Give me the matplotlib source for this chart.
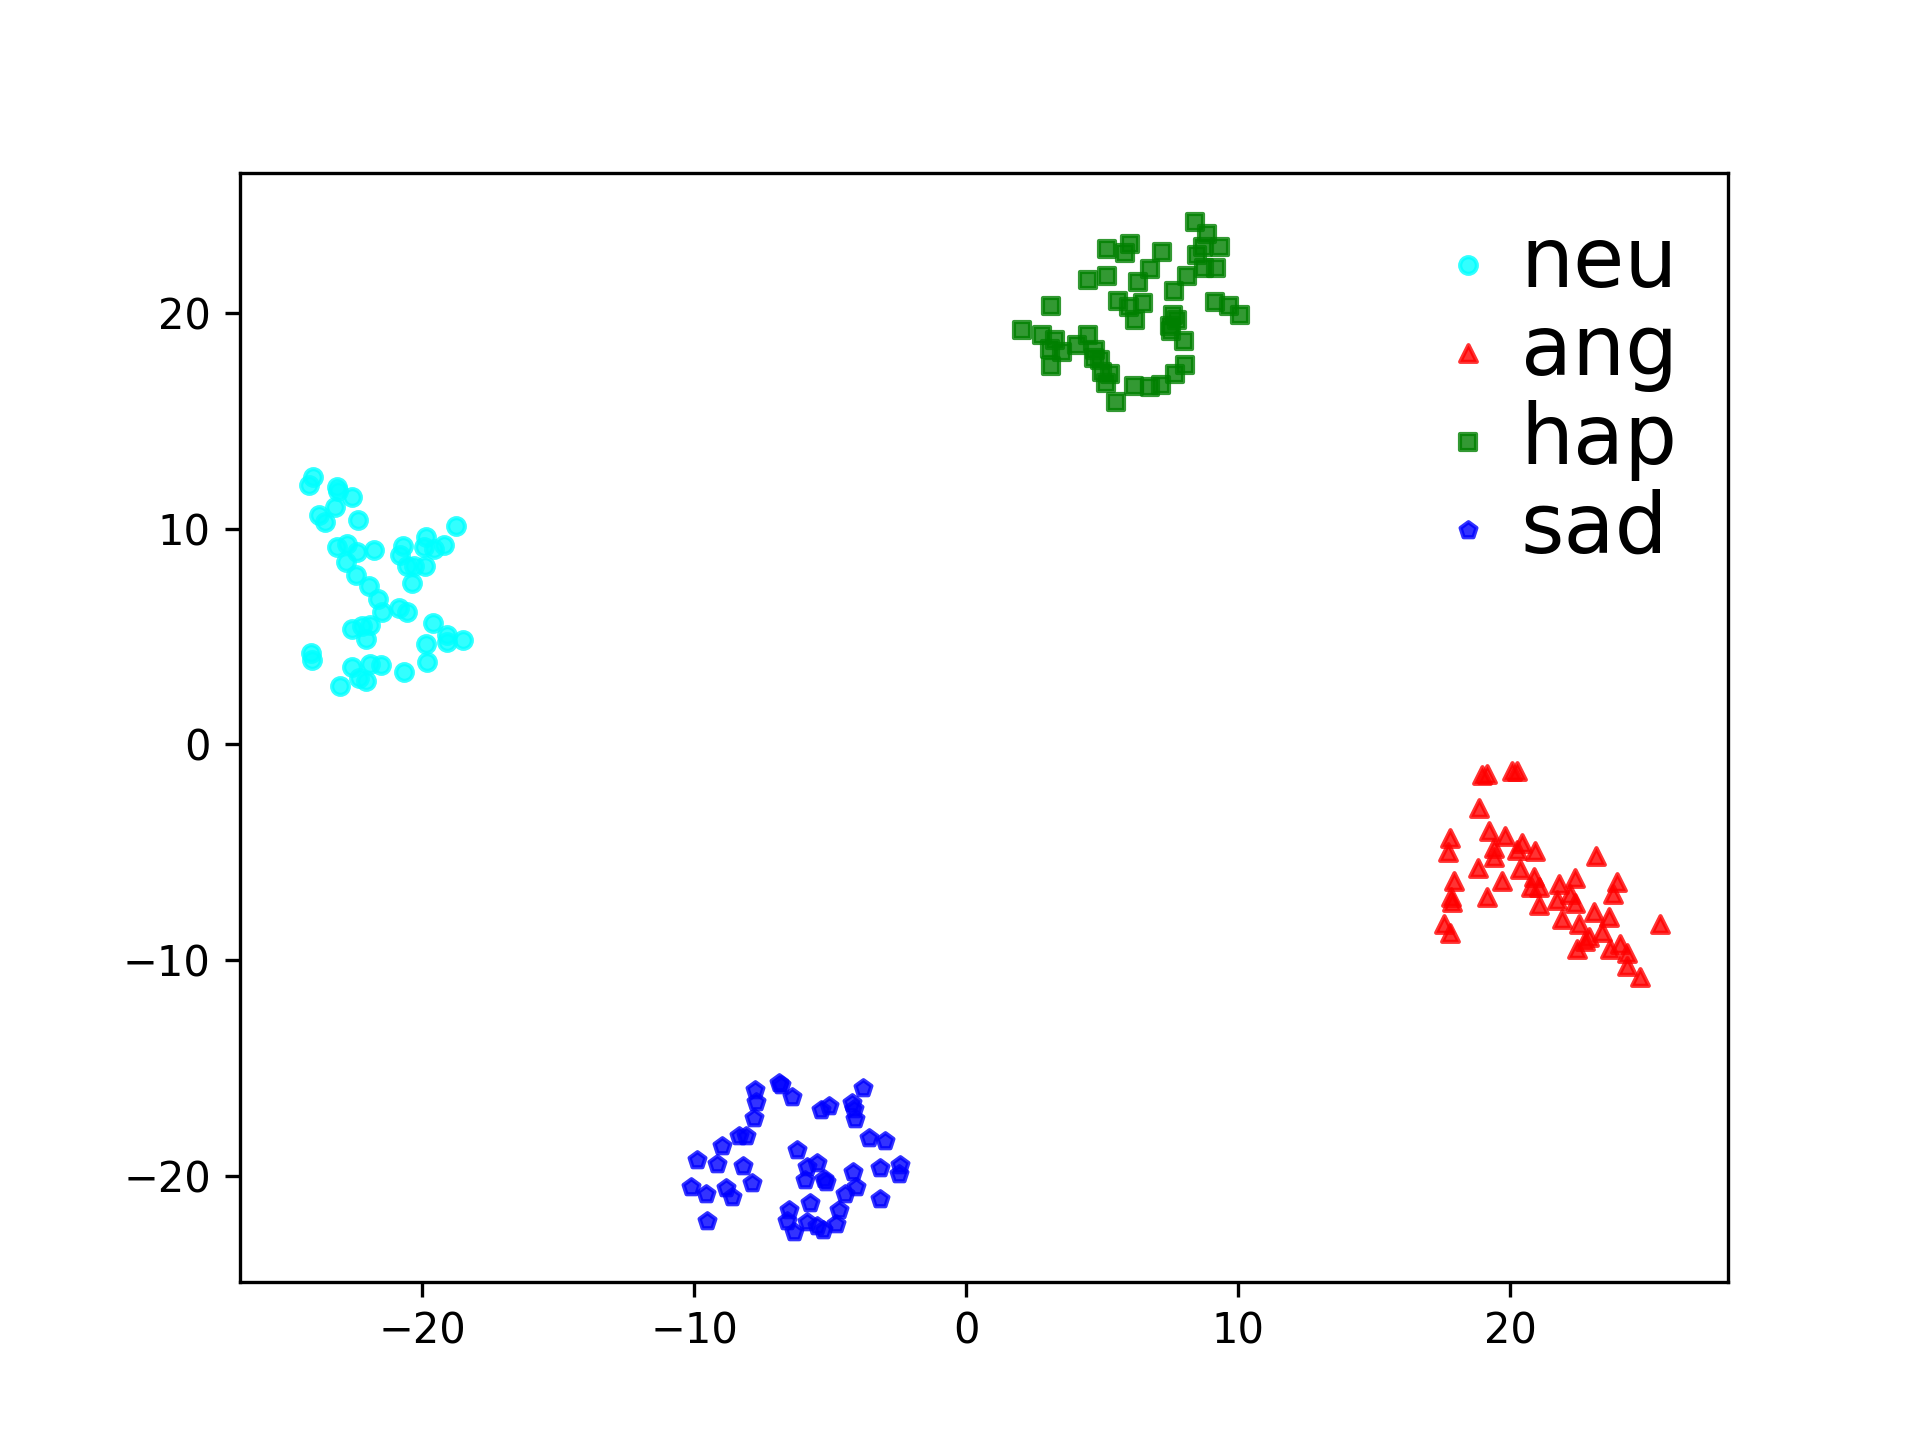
import matplotlib
matplotlib.use("Agg")
import matplotlib.pyplot as plt
import numpy as np

labels = ["neu", "ang", "hap", "sad"]
colors = ["cyan", "red", "green", "blue"]
markers = ["o", "^", "s", "p"]

neu_x = [-24.02, -24.18, -23.14, -23.08, -22.59, -23.20, -23.81, -23.57, -22.38, -18.76,
         -19.85, -23.14, -22.75, -22.40, -21.79, -20.72, -20.81, -19.95, -19.58, -19.19,
         -22.79, -20.56, -19.89, -20.32, -22.43, -20.38, -21.94, -21.64, -21.48, -20.87,
         -20.56, -22.59, -22.22, -21.91, -22.06, -19.61, -19.09, -19.09, -18.52, -19.85,
         -24.09, -24.06, -22.59, -21.91, -21.52, -22.34, -22.06, -23.01, -20.66, -19.83]
neu_y = [12.40, 12.04, 11.93, 11.73, 11.47, 11.00, 10.65, 10.29, 10.42, 10.11,
         9.61, 9.15, 9.30, 8.90, 9.03, 9.18, 8.79, 9.15, 9.06, 9.26,
         8.48, 8.25, 8.25, 8.28, 7.87, 7.48, 7.36, 6.74, 6.12, 6.32,
         6.16, 5.34, 5.47, 5.55, 4.88, 5.62, 5.08, 4.77, 4.85, 4.66,
         4.26, 3.92, 3.61, 3.74, 3.69, 3.07, 2.92, 2.71, 3.38, 3.80]

ang_x = [18.96, 19.14, 20.06, 20.25, 18.84, 19.20, 19.82, 17.79, 17.70, 19.39,
         19.39, 20.25, 20.43, 20.92, 23.13, 18.80, 20.37, 17.92, 19.69, 20.86,
         20.74, 21.04, 21.78, 22.39, 23.92, 23.78, 17.82, 17.86, 19.14, 21.04,
         21.72, 22.21, 22.39, 23.06, 23.61, 17.55, 17.77, 21.90, 22.51, 23.37,
         22.88, 22.76, 22.45, 23.68, 24.04, 24.29, 24.29, 24.75, 25.49]
ang_y = [-1.42, -1.37, -1.21, -1.21, -2.96, -4.01, -4.25, -4.35, -4.97, -4.82,
         -5.21, -4.90, -4.59, -4.93, -5.17, -5.75, -5.79, -6.32, -6.33, -6.13,
         -6.60, -6.63, -6.47, -6.21, -6.37, -6.91, -7.06, -7.29, -7.06, -7.45,
         -7.22, -6.91, -7.37, -7.76, -7.99, -8.30, -8.76, -8.07, -8.30, -8.69,
         -8.92, -9.10, -9.50, -9.46, -9.26, -9.69, -10.28, -10.77, -8.33]

hap_x = [8.39, 8.85, 8.70, 9.31, 8.48, 5.17, 6.00, 5.85, 7.19, 6.76,
         6.30, 8.11, 8.73, 9.19, 4.47, 5.17, 7.62, 3.11, 5.56, 5.97,
         6.50, 6.19, 9.15, 9.64, 10.07, 7.60, 7.75, 7.50, 7.53, 7.99,
         2.05, 2.78, 3.27, 3.09, 3.52, 4.07, 4.46, 4.74, 4.71, 4.90,
         3.11, 4.99, 5.29, 5.15, 8.05, 7.68, 6.15, 6.76, 7.16, 5.51]
hap_y = [24.21, 23.64, 23.07, 23.07, 22.71, 22.98, 23.18, 22.76, 22.84, 22.05,
         21.43, 21.71, 22.10, 22.10, 21.52, 21.71, 21.01, 20.32, 20.55, 20.29,
         20.47, 19.67, 20.50, 20.32, 19.93, 19.93, 19.67, 19.42, 19.16, 18.69,
         19.20, 19.00, 18.77, 18.31, 18.18, 18.54, 19.00, 18.27, 17.92, 17.84,
         17.53, 17.25, 17.15, 16.76, 17.61, 17.15, 16.60, 16.58, 16.64, 15.86]

sad_x = [-6.90, -6.81, -6.41, -3.80, -7.76, -7.72, -5.34, -5.03, -4.20, -4.14,
         -4.08, -7.79, -8.37, -8.09, -3.59, -2.98, -8.98, -9.90, -9.17, -8.21,
         -6.23, -5.86, -5.49, -5.92, -5.25, -5.15, -4.17, -3.19, -2.43, -2.49,
         -10.12, -9.56, -8.82, -8.61, -7.88, -4.45, -4.04, -3.16, -5.76, -6.53,
         -6.59, -6.32, -5.86, -5.49, -5.27, -4.69, -4.78, -9.53]
sad_y = [-15.68, -15.77, -16.34, -15.93, -16.03, -16.57, -16.96, -16.76, -16.60, -16.88,
         -17.35, -17.32, -18.15, -18.15, -18.25, -18.40, -18.62, -19.28, -19.44, -19.54,
         -18.82, -19.59, -19.39, -20.21, -20.13, -20.26, -19.82, -19.64, -19.51, -19.90,
         -20.52, -20.83, -20.57, -20.98, -20.32, -20.83, -20.52, -21.06, -21.24, -21.60,
         -22.11, -22.61, -22.14, -22.33, -22.53, -21.60, -22.22, -22.07]

xs = [neu_x, ang_x, hap_x, sad_x]
ys = [neu_y, ang_y, hap_y, sad_y]

fig, ax = plt.subplots(figsize=(6.4, 4.8), dpi=300)
for x, y, c, m, lab in zip(xs, ys, colors, markers, labels):
    ax.scatter(x, y, c=c, marker=m, s=16, linewidths=1, alpha=0.8, label=lab)

ax.set_xlim(-26.7, 28.0)
ax.set_ylim(-24.9, 26.5)
ax.legend(loc="upper right", fontsize=20, frameon=False, handlelength=1.0,
          handletextpad=0.13, labelspacing=0.09, borderaxespad=0.2)
fig.savefig("out.png", dpi=300)
